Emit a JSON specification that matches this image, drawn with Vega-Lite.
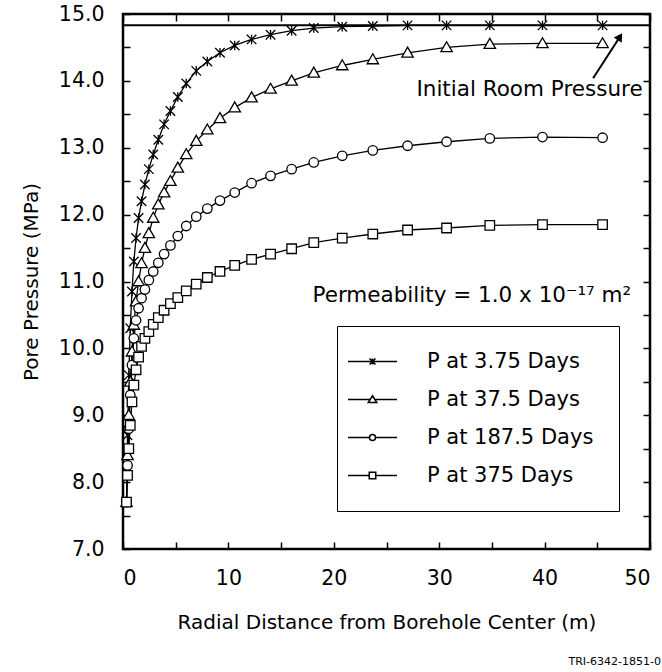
{
  "$schema": "https://vega.github.io/schema/vega-lite/v6.json",
  "width": 527,
  "height": 535,
  "autosize": "none",
  "padding": {"left": 123, "top": 14, "right": 12, "bottom": 123},
  "background": "white",
  "config": {
    "font": "DejaVu Sans",
    "view": {"stroke": "black", "strokeWidth": 2.5},
    "axis": {
      "domain": false,
      "grid": false,
      "tickColor": "black",
      "tickSize": -7,
      "tickWidth": 1.5,
      "labelFont": "DejaVu Sans",
      "labelFontSize": 20.5,
      "labelColor": "black",
      "titleFont": "DejaVu Sans",
      "titleFontSize": 20,
      "titleFontWeight": "normal",
      "titleColor": "black"
    }
  },
  "title": {
    "text": "TRI-6342-1851-0",
    "orient": "bottom",
    "anchor": "end",
    "font": "DejaVu Sans",
    "fontSize": 11,
    "fontWeight": "normal",
    "color": "black",
    "offset": 23,
    "dx": 10
  },
  "resolve": {
    "scale": {"shape": "independent"},
    "legend": {"shape": "independent"},
    "axis": {"x": "independent", "y": "independent"}
  },
  "datasets": {
    "curves": [
      {"r": 0.33, "p": 7.7, "s": "P at 3.75 Days"}, {"r": 0.43, "p": 8.7, "s": "P at 3.75 Days"}, {"r": 0.55, "p": 9.6, "s": "P at 3.75 Days"}, {"r": 0.69, "p": 10.3, "s": "P at 3.75 Days"}, {"r": 0.85, "p": 10.85, "s": "P at 3.75 Days"}, {"r": 1.03, "p": 11.3, "s": "P at 3.75 Days"}, {"r": 1.24, "p": 11.65, "s": "P at 3.75 Days"}, {"r": 1.48, "p": 11.95, "s": "P at 3.75 Days"}, {"r": 1.76, "p": 12.2, "s": "P at 3.75 Days"}, {"r": 2.08, "p": 12.45, "s": "P at 3.75 Days"}, {"r": 2.45, "p": 12.68, "s": "P at 3.75 Days"}, {"r": 2.87, "p": 12.9, "s": "P at 3.75 Days"}, {"r": 3.35, "p": 13.12, "s": "P at 3.75 Days"}, {"r": 3.9, "p": 13.35, "s": "P at 3.75 Days"}, {"r": 4.5, "p": 13.55, "s": "P at 3.75 Days"}, {"r": 5.2, "p": 13.76, "s": "P at 3.75 Days"}, {"r": 6.0, "p": 13.96, "s": "P at 3.75 Days"}, {"r": 6.95, "p": 14.15, "s": "P at 3.75 Days"}, {"r": 8.0, "p": 14.29, "s": "P at 3.75 Days"}, {"r": 9.2, "p": 14.42, "s": "P at 3.75 Days"}, {"r": 10.6, "p": 14.53, "s": "P at 3.75 Days"}, {"r": 12.2, "p": 14.62, "s": "P at 3.75 Days"}, {"r": 14.0, "p": 14.69, "s": "P at 3.75 Days"}, {"r": 16.0, "p": 14.75, "s": "P at 3.75 Days"}, {"r": 18.1, "p": 14.79, "s": "P at 3.75 Days"}, {"r": 20.8, "p": 14.81, "s": "P at 3.75 Days"}, {"r": 23.7, "p": 14.82, "s": "P at 3.75 Days"}, {"r": 27.0, "p": 14.83, "s": "P at 3.75 Days"}, {"r": 30.7, "p": 14.83, "s": "P at 3.75 Days"}, {"r": 34.8, "p": 14.83, "s": "P at 3.75 Days"}, {"r": 39.8, "p": 14.83, "s": "P at 3.75 Days"}, {"r": 45.5, "p": 14.83, "s": "P at 3.75 Days"},
      {"r": 0.33, "p": 7.7, "s": "P at 37.5 Days"}, {"r": 0.43, "p": 8.4, "s": "P at 37.5 Days"}, {"r": 0.55, "p": 9.0, "s": "P at 37.5 Days"}, {"r": 0.69, "p": 9.5, "s": "P at 37.5 Days"}, {"r": 0.85, "p": 9.95, "s": "P at 37.5 Days"}, {"r": 1.03, "p": 10.35, "s": "P at 37.5 Days"}, {"r": 1.24, "p": 10.7, "s": "P at 37.5 Days"}, {"r": 1.48, "p": 11.0, "s": "P at 37.5 Days"}, {"r": 1.76, "p": 11.27, "s": "P at 37.5 Days"}, {"r": 2.08, "p": 11.5, "s": "P at 37.5 Days"}, {"r": 2.45, "p": 11.72, "s": "P at 37.5 Days"}, {"r": 2.87, "p": 11.95, "s": "P at 37.5 Days"}, {"r": 3.35, "p": 12.15, "s": "P at 37.5 Days"}, {"r": 3.9, "p": 12.33, "s": "P at 37.5 Days"}, {"r": 4.5, "p": 12.5, "s": "P at 37.5 Days"}, {"r": 5.2, "p": 12.7, "s": "P at 37.5 Days"}, {"r": 6.0, "p": 12.9, "s": "P at 37.5 Days"}, {"r": 6.95, "p": 13.1, "s": "P at 37.5 Days"}, {"r": 8.0, "p": 13.27, "s": "P at 37.5 Days"}, {"r": 9.2, "p": 13.44, "s": "P at 37.5 Days"}, {"r": 10.6, "p": 13.6, "s": "P at 37.5 Days"}, {"r": 12.2, "p": 13.75, "s": "P at 37.5 Days"}, {"r": 14.0, "p": 13.88, "s": "P at 37.5 Days"}, {"r": 16.0, "p": 14.0, "s": "P at 37.5 Days"}, {"r": 18.1, "p": 14.12, "s": "P at 37.5 Days"}, {"r": 20.8, "p": 14.23, "s": "P at 37.5 Days"}, {"r": 23.7, "p": 14.32, "s": "P at 37.5 Days"}, {"r": 27.0, "p": 14.42, "s": "P at 37.5 Days"}, {"r": 30.7, "p": 14.5, "s": "P at 37.5 Days"}, {"r": 34.8, "p": 14.55, "s": "P at 37.5 Days"}, {"r": 39.8, "p": 14.56, "s": "P at 37.5 Days"}, {"r": 45.5, "p": 14.56, "s": "P at 37.5 Days"},
      {"r": 0.33, "p": 7.7, "s": "P at 187.5 Days"}, {"r": 0.43, "p": 8.25, "s": "P at 187.5 Days"}, {"r": 0.55, "p": 8.8, "s": "P at 187.5 Days"}, {"r": 0.69, "p": 9.3, "s": "P at 187.5 Days"}, {"r": 0.85, "p": 9.75, "s": "P at 187.5 Days"}, {"r": 1.03, "p": 10.15, "s": "P at 187.5 Days"}, {"r": 1.24, "p": 10.42, "s": "P at 187.5 Days"}, {"r": 1.48, "p": 10.6, "s": "P at 187.5 Days"}, {"r": 1.76, "p": 10.75, "s": "P at 187.5 Days"}, {"r": 2.08, "p": 10.88, "s": "P at 187.5 Days"}, {"r": 2.45, "p": 11.02, "s": "P at 187.5 Days"}, {"r": 2.87, "p": 11.15, "s": "P at 187.5 Days"}, {"r": 3.35, "p": 11.28, "s": "P at 187.5 Days"}, {"r": 3.9, "p": 11.41, "s": "P at 187.5 Days"}, {"r": 4.5, "p": 11.54, "s": "P at 187.5 Days"}, {"r": 5.2, "p": 11.68, "s": "P at 187.5 Days"}, {"r": 6.0, "p": 11.83, "s": "P at 187.5 Days"}, {"r": 6.95, "p": 11.97, "s": "P at 187.5 Days"}, {"r": 8.0, "p": 12.09, "s": "P at 187.5 Days"}, {"r": 9.2, "p": 12.21, "s": "P at 187.5 Days"}, {"r": 10.6, "p": 12.33, "s": "P at 187.5 Days"}, {"r": 12.2, "p": 12.47, "s": "P at 187.5 Days"}, {"r": 14.0, "p": 12.58, "s": "P at 187.5 Days"}, {"r": 16.0, "p": 12.68, "s": "P at 187.5 Days"}, {"r": 18.1, "p": 12.78, "s": "P at 187.5 Days"}, {"r": 20.8, "p": 12.88, "s": "P at 187.5 Days"}, {"r": 23.7, "p": 12.96, "s": "P at 187.5 Days"}, {"r": 27.0, "p": 13.03, "s": "P at 187.5 Days"}, {"r": 30.7, "p": 13.09, "s": "P at 187.5 Days"}, {"r": 34.8, "p": 13.14, "s": "P at 187.5 Days"}, {"r": 39.8, "p": 13.16, "s": "P at 187.5 Days"}, {"r": 45.5, "p": 13.15, "s": "P at 187.5 Days"},
      {"r": 0.33, "p": 7.7, "s": "P at 375 Days"}, {"r": 0.43, "p": 8.1, "s": "P at 375 Days"}, {"r": 0.55, "p": 8.5, "s": "P at 375 Days"}, {"r": 0.69, "p": 8.85, "s": "P at 375 Days"}, {"r": 0.85, "p": 9.2, "s": "P at 375 Days"}, {"r": 1.03, "p": 9.45, "s": "P at 375 Days"}, {"r": 1.24, "p": 9.68, "s": "P at 375 Days"}, {"r": 1.48, "p": 9.87, "s": "P at 375 Days"}, {"r": 1.76, "p": 10.03, "s": "P at 375 Days"}, {"r": 2.08, "p": 10.15, "s": "P at 375 Days"}, {"r": 2.45, "p": 10.25, "s": "P at 375 Days"}, {"r": 2.87, "p": 10.36, "s": "P at 375 Days"}, {"r": 3.35, "p": 10.46, "s": "P at 375 Days"}, {"r": 3.9, "p": 10.57, "s": "P at 375 Days"}, {"r": 4.5, "p": 10.67, "s": "P at 375 Days"}, {"r": 5.2, "p": 10.76, "s": "P at 375 Days"}, {"r": 6.0, "p": 10.86, "s": "P at 375 Days"}, {"r": 6.95, "p": 10.96, "s": "P at 375 Days"}, {"r": 8.0, "p": 11.06, "s": "P at 375 Days"}, {"r": 9.2, "p": 11.15, "s": "P at 375 Days"}, {"r": 10.6, "p": 11.24, "s": "P at 375 Days"}, {"r": 12.2, "p": 11.33, "s": "P at 375 Days"}, {"r": 14.0, "p": 11.41, "s": "P at 375 Days"}, {"r": 16.0, "p": 11.49, "s": "P at 375 Days"}, {"r": 18.1, "p": 11.58, "s": "P at 375 Days"}, {"r": 20.8, "p": 11.65, "s": "P at 375 Days"}, {"r": 23.7, "p": 11.71, "s": "P at 375 Days"}, {"r": 27.0, "p": 11.77, "s": "P at 375 Days"}, {"r": 30.7, "p": 11.8, "s": "P at 375 Days"}, {"r": 34.8, "p": 11.84, "s": "P at 375 Days"}, {"r": 39.8, "p": 11.85, "s": "P at 375 Days"}, {"r": 45.5, "p": 11.85, "s": "P at 375 Days"}
    ],
    "initial": [{"p": 14.83}],
    "notes": [
      {"r": 49.3, "p": 13.87, "t": "Initial Room Pressure"},
      {"r": 48.2, "p": 10.78, "t": "Permeability = 1.0 x 10⁻¹⁷ m²"}
    ],
    "arrow": [{"r": 44.6, "p": 14.04, "r2": 47.15, "p2": 14.66}]
  },
  "layer": [
    {
      "data": {"name": "initial"},
      "mark": {"type": "rule", "color": "black", "strokeWidth": 2},
      "encoding": {
        "y": {
          "field": "p", "type": "quantitative",
          "scale": {"domain": [7, 15], "nice": false, "zero": false},
          "axis": {"orient": "right", "labels": false, "title": null, "values": [7, 7.5, 8, 8.5, 9, 9.5, 10, 10.5, 11, 11.5, 12, 12.5, 13, 13.5, 14, 14.5, 15]}
        }
      }
    },
    {
      "data": {"name": "curves"},
      "mark": {"type": "line", "color": "black", "strokeWidth": 1.3, "clip": true},
      "encoding": {
        "x": {
          "field": "r", "type": "quantitative",
          "scale": {"domain": [0, 50], "nice": false, "zero": false},
          "axis": {
            "title": "Radial Distance from Borehole Center (m)",
            "values": [0, 5, 10, 15, 20, 25, 30, 35, 40, 45, 50],
            "labelExpr": "datum.value % 10 == 0 ? format(datum.value, 'd') : ''",
            "labelPadding": 26,
            "titlePadding": 24
          }
        },
        "y": {
          "field": "p", "type": "quantitative",
          "scale": {"domain": [7, 15], "nice": false, "zero": false},
          "axis": {
            "title": "Pore Pressure (MPa)",
            "values": [7, 7.5, 8, 8.5, 9, 9.5, 10, 10.5, 11, 11.5, 12, 12.5, 13, 13.5, 14, 14.5, 15],
            "labelExpr": "datum.value % 1 == 0 ? format(datum.value, '.1f') : ''",
            "labelPadding": 26,
            "titlePadding": 17
          }
        },
        "detail": {"field": "s"}
      }
    },
    {
      "data": {"name": "curves"},
      "mark": {"type": "point", "fill": "white", "stroke": "black", "strokeWidth": 1.3, "opacity": 1, "size": 90, "filled": true},
      "encoding": {
        "x": {"field": "r", "type": "quantitative", "axis": null},
        "y": {"field": "p", "type": "quantitative", "axis": null},
        "shape": {
          "field": "s", "type": "nominal",
          "scale": {
            "domain": ["P at 3.75 Days", "P at 37.5 Days", "P at 187.5 Days", "P at 375 Days"],
            "range": ["M-1,-1L1,1M-1,1L1,-1M0,-1V1", "M0,-1.2L1.2,0.9H-1.2Z", "circle", "square"]
          },
          "legend": null
        }
      }
    },
    {
      "data": {"name": "curves"},
      "mark": {"type": "point", "stroke": "black", "strokeWidth": 1.3, "size": 144},
      "encoding": {
        "x": {"field": "r", "type": "quantitative", "axis": null},
        "y": {"field": "p", "type": "quantitative", "axis": null},
        "opacity": {"value": 0},
        "shape": {
          "field": "s", "type": "nominal",
          "scale": {
            "domain": ["P at 3.75 Days", "P at 37.5 Days", "P at 187.5 Days", "P at 375 Days"],
            "range": [
              "M-4.9,0H4.9M-0.6,-0.6L0.6,0.6M-0.6,0.6L0.6,-0.6M0,-0.6V0.6",
              "M-4.9,0H-0.5M0.5,0H4.9M0,-0.75L0.85,0.6H-0.85Z",
              "M-4.9,0H-0.6M0.6,0H4.9M0.6,0A0.6,0.6 0 1,1 -0.6,0A0.6,0.6 0 1,1 0.6,0Z",
              "M-4.9,0H-0.65M0.65,0H4.9M-0.65,-0.65H0.65V0.65H-0.65Z"
            ]
          },
          "legend": {
            "title": null,
            "orient": "none",
            "legendX": 214,
            "legendY": 312,
            "padding": 25,
            "strokeColor": "black",
            "symbolOpacity": 1,
            "symbolStrokeColor": "black",
            "labelFont": "DejaVu Sans",
            "labelFontSize": 21,
            "labelColor": "black",
            "labelOffset": 44,
            "rowPadding": 16,
            "labelLimit": 400
          }
        }
      }
    },
    {
      "data": {"name": "arrow"},
      "mark": {"type": "rule", "color": "black", "strokeWidth": 2},
      "encoding": {
        "x": {
          "field": "r", "type": "quantitative",
          "axis": {"orient": "top", "labels": false, "title": null, "values": [0, 5, 10, 15, 20, 25, 30, 35, 40, 45, 50]}
        },
        "y": {"field": "p", "type": "quantitative", "axis": null},
        "x2": {"field": "r2"},
        "y2": {"field": "p2"}
      }
    },
    {
      "data": {"name": "arrow"},
      "mark": {"type": "point", "shape": "triangle-up", "angle": 33, "size": 90, "filled": true, "color": "black", "opacity": 1},
      "encoding": {
        "x": {"field": "r2", "type": "quantitative", "axis": null},
        "y": {"field": "p2", "type": "quantitative", "axis": null}
      }
    },
    {
      "data": {"name": "notes"},
      "mark": {"type": "text", "align": "right", "baseline": "middle", "font": "DejaVu Sans", "fontSize": 21.5, "color": "black"},
      "encoding": {
        "x": {"field": "r", "type": "quantitative", "axis": null},
        "y": {"field": "p", "type": "quantitative", "axis": null},
        "text": {"field": "t"}
      }
    }
  ]
}
